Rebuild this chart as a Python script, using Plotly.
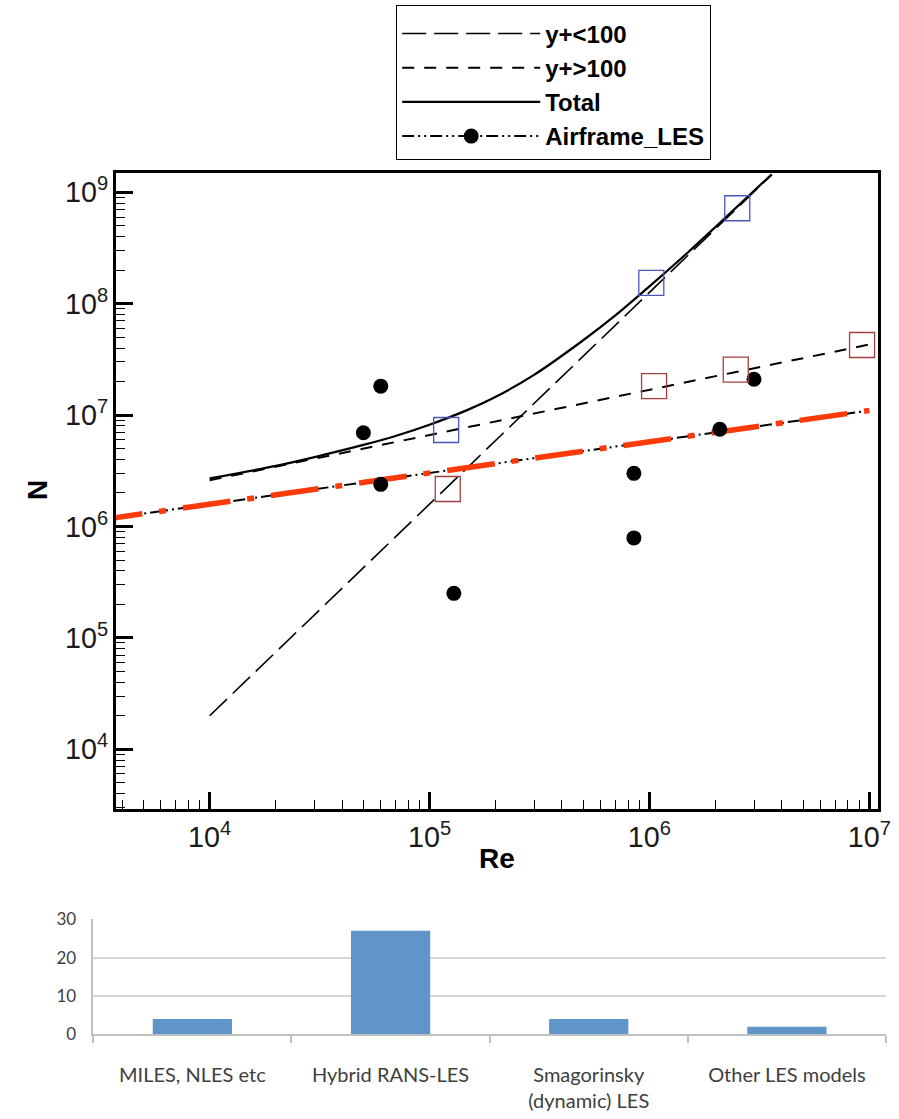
import plotly.graph_objects as go

# ---------------- data ----------------
# straight reference lines (log-log), endpoints
re_wr = [1.0e4, 3.6e6]          # y+<100
n_wr = [2.0e4, 1.44e9]
re_wm = [1.0e4, 1.0e7]          # y+>100
n_wm = [2.6e6, 4.3e7]
# total curve, read points
re_tot = [1.0e4, 2.0e4, 3.0e4, 5.0e4, 7.0e4, 1.0e5, 1.5e5, 2.0e5, 3.0e5, 5.0e5, 7.0e5,
          1.0e6, 1.5e6, 2.0e6, 3.6e6]
n_tot = [2.7e6, 3.5e6, 4.2e6, 5.4e6, 6.5e6, 8.2e6, 1.12e7, 1.46e7, 2.31e7, 4.7e7, 7.85e7,
         1.43e8, 2.9e8, 4.9e8, 1.45e9]
# Airframe_LES fit line
re_fit = [3.0e3, 1.0e7]
n_fit = [1.13e6, 1.1e7]
# Airframe_LES data points
re_les = [5.0e4, 6.0e4, 6.0e4, 1.29e5, 8.5e5, 8.5e5, 2.09e6, 2.99e6]
n_les = [6.95e6, 1.82e7, 2.39e6, 2.51e5, 3.0e6, 7.9e5, 7.46e6, 2.1e7]
# open squares
re_blue = [1.19e5, 1.02e6, 2.51e6]
n_blue = [7.35e6, 1.54e8, 7.2e8]
re_red = [1.21e5, 1.05e6, 2.47e6, 9.27e6]
n_red = [2.17e6, 1.82e7, 2.56e7, 4.26e7]

# bar chart
bar_cats = ["MILES, NLES etc", "Hybrid RANS-LES", "Smagorinsky<br>(dynamic) LES", "Other LES models"]
bar_vals = [4, 27, 4, 2]
bar_ticks = [0, 10, 20, 30]

W, H = 899, 1119
OFF = 0  # page body margin removed by post_script


def fx(px):
    return (px - OFF) / W


def fy(py):
    return 1 - (py - OFF) / H


fig = go.Figure()

# y+<100
fig.add_trace(go.Scatter(x=re_wr, y=n_wr, mode="lines", name="y+<100",
                         line=dict(color="black", width=1.6, dash="24px,8px")))
# y+>100
fig.add_trace(go.Scatter(x=re_wm, y=n_wm, mode="lines", name="y+>100",
                         line=dict(color="black", width=2, dash="12px,10px")))
# Total
fig.add_trace(go.Scatter(x=re_tot, y=n_tot, mode="lines", name="Total",
                         line=dict(color="black", width=2.2, shape="spline", smoothing=0.8)))
# Airframe_LES fit: black dash-dot-dot under a red dash-dot
fig.add_trace(go.Scatter(x=re_fit, y=n_fit, mode="lines", showlegend=False,
                         line=dict(color="black", width=2, dash="12px,4px,2px,4px,2px,4px")))
fig.add_trace(go.Scatter(x=re_fit, y=n_fit, mode="lines", showlegend=False,
                         line=dict(color="#ff3a0a", width=5.5, dash="48px,17px,7px,17px")))
# Airframe_LES points
fig.add_trace(go.Scatter(x=re_les, y=n_les, mode="markers", showlegend=False,
                         marker=dict(color="black", size=15, symbol="circle")))
# legend entry for Airframe_LES
fig.add_trace(go.Scatter(x=[None], y=[None], mode="lines+markers", name="Airframe_LES",
                         line=dict(color="black", width=2, dash="12px,4px,2px,4px,2px,4px"),
                         marker=dict(color="black", size=15)))
# squares
fig.add_trace(go.Scatter(x=re_blue, y=n_blue, mode="markers", showlegend=False,
                         marker=dict(symbol="square-open", size=25, color="#4b56b8",
                                     line=dict(width=1.3, color="#4b56b8"))))
fig.add_trace(go.Scatter(x=re_red, y=n_red, mode="markers", showlegend=False,
                         marker=dict(symbol="square-open", size=25, color="#a3403c",
                                     line=dict(width=1.3, color="#a3403c"))))

# bars
fig.add_trace(go.Bar(x=bar_cats, y=bar_vals, marker=dict(color="#5f95c9", line=dict(width=0)),
                     xaxis="x2", yaxis="y2", showlegend=False))

tickfont = dict(family="Liberation Sans, Arial, sans-serif", size=23, color="#1a1a1a")
minor = dict(ticks="inside", ticklen=9, tickwidth=1.2, tickcolor="black", dtick="D1", showgrid=False)

fig.update_layout(
    width=W, height=H,
    margin=dict(l=0, r=0, t=0, b=0, autoexpand=False),
    paper_bgcolor="white", plot_bgcolor="white",
    showlegend=True,
    legend=dict(xref="paper", yref="paper", x=fx(396), y=fy(5),
                xanchor="left", yanchor="top",
                bgcolor="white", bordercolor="black", borderwidth=1.2,
                font=dict(family="Liberation Sans, Arial, sans-serif", size=24, color="black", weight="bold"),
                itemwidth=138, traceorder="normal",
                title=dict(text=" ", font=dict(size=4))),
    xaxis=dict(type="log", domain=[fx(115.7), fx(878.3)], range=[3.5726, 7.041],
               anchor="y", dtick=1, tick0=0, exponentformat="power", automargin=False,
               showgrid=False, zeroline=False, showline=True, linecolor="black", linewidth=3,
               mirror=True, ticks="inside", ticklen=17, tickwidth=2.5, tickcolor="black",
               minor=minor, tickfont=tickfont, ticklabelstandoff=1, tickangle=0),
    yaxis=dict(type="log", domain=[fy(809.3), fy(173.3)], range=[3.461, 9.171],
               anchor="x", dtick=1, tick0=0, exponentformat="power", automargin=False,
               showgrid=False, zeroline=False, showline=True, linecolor="black", linewidth=3,
               mirror=True, ticks="inside", ticklen=17, tickwidth=2.5, tickcolor="black",
               minor=minor, tickfont=tickfont, ticklabelstandoff=0),
    xaxis2=dict(domain=[fx(93.3), fx(886)], anchor="y2", type="category", automargin=False,
                showline=True, linecolor="#c0c0c0", linewidth=1.5,
                ticks="outside", tickson="boundaries", ticklen=7, tickcolor="#c0c0c0", tickwidth=1.5,
                showgrid=False, zeroline=False, tickangle=0,
                tickfont=dict(family="Lato, Carlito, sans-serif", size=20, color="#404040"),
                ticklabelstandoff=22),
    yaxis2=dict(domain=[fy(1034.3), fy(919.3)], anchor="x2", range=[0, 30], automargin=False,
                tickvals=bar_ticks, showline=True, linecolor="#c0c0c0", linewidth=1.5,
                showgrid=True, gridcolor="#d6d6d6", gridwidth=1.5, zeroline=False,
                ticks="", tickfont=dict(family="Lato, Carlito, sans-serif", size=17, color="#404040"),
                ticklabelstandoff=12),
    bargap=0.6,
    annotations=[
        dict(text="<b>Re</b>", x=fx(497), y=fy(858), xref="paper", yref="paper",
             xanchor="center", yanchor="middle",
             showarrow=False, font=dict(family="Liberation Sans, Arial, sans-serif", size=28, color="black")),
        dict(text="<b>N</b>", x=fx(37), y=fy(490), xref="paper", yref="paper", textangle=-90,
             xanchor="center", yanchor="middle",
             showarrow=False, font=dict(family="Liberation Sans, Arial, sans-serif", size=28, color="black")),
    ],
)

fig.write_html("out.html", config={"displayModeBar": False},
               post_script="document.body.style.margin='0';")
